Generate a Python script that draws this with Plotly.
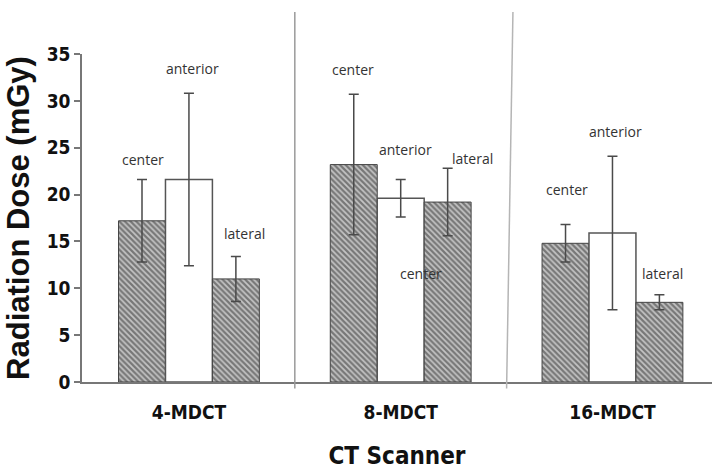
import plotly.graph_objects as go

scanners = ["4-MDCT", "8-MDCT", "16-MDCT"]
positions = ["center", "anterior", "lateral"]
center_dose = [17.2, 23.2, 14.8]
center_err = [4.4, 7.5, 2.0]
anterior_dose = [21.6, 19.6, 15.9]
anterior_err = [9.2, 2.0, 8.2]
lateral_dose = [11.0, 19.2, 8.5]
lateral_err = [2.4, 3.6, 0.8]
y_ticks = [0, 5, 10, 15, 20, 25, 30, 35]

# in-plot labels: (text, group offset x, y)
label_text = ["center", "anterior", "lateral", "center", "anterior", "lateral", "center", "center", "anterior", "lateral"]
label_x = [-0.217, 0.019, 0.264, 0.774, 1.024, 1.340, 1.094, 1.783, 2.014, 2.236]
label_y = [23.7, 33.5, 15.8, 33.3, 24.8, 23.9, 11.6, 20.5, 26.7, 11.6]

xs = list(range(len(scanners)))

hatch = dict(shape="\\", fgcolor="#2a2a2a", bgcolor="#c4c4c4", size=4, solidity=0.55)
err_style = dict(type="data", color="#4a4a4a", thickness=1.5, width=5, visible=True)

NARROW = "DejaVu Sans Condensed, Liberation Sans Narrow, Arial Narrow, sans-serif"

fig = go.Figure()
fig.add_trace(go.Bar(
    x=xs, y=center_dose, name="center",
    marker=dict(color="#c4c4c4", pattern=hatch, line=dict(color="#444444", width=1)),
    error_y=dict(array=center_err, **err_style),
))
fig.add_trace(go.Bar(
    x=xs, y=anterior_dose, name="anterior",
    marker=dict(color="white", line=dict(color="#555555", width=1.5)),
    error_y=dict(array=anterior_err, **err_style),
))
fig.add_trace(go.Bar(
    x=xs, y=lateral_dose, name="lateral",
    marker=dict(color="#c4c4c4", pattern=hatch, line=dict(color="#444444", width=1)),
    error_y=dict(array=lateral_err, **err_style),
))

for t, x, y in zip(label_text, label_x, label_y):
    fig.add_annotation(x=x, y=y, xref="x", yref="y", text=t, showarrow=False,
                       font=dict(family="Open Sans", size=14, color="#333333"))

# group separators
for i in range(len(scanners) - 1):
    b = i + 0.5
    top = b + (0.03 if i == 1 else 0.0)
    fig.add_shape(type="line", xref="x", yref="paper", x0=b, x1=top, y0=-0.02, y1=1.128,
                  line=dict(color="#9a9a9a" if i == 0 else "#b5b5b5", width=1.5), layer="above")

fig.update_layout(
    width=713, height=474,
    margin=dict(l=82, r=1, t=54, b=92),
    paper_bgcolor="white", plot_bgcolor="white",
    barmode="group", bargap=0.335, bargroupgap=0,
    showlegend=False,
    xaxis=dict(
        range=[-0.505, 2.47], tickvals=xs, ticktext=scanners, ticks="",
        ticklabelstandoff=12,
        showline=True, linecolor="#777777", linewidth=1.5, showgrid=False, zeroline=False,
        tickfont=dict(family=NARROW, size=19, color="#111111", weight="bold"),
        title=dict(text="CT Scanner", standoff=26,
                   font=dict(family=NARROW, size=24, color="#111111", weight="bold")),
    ),
    yaxis=dict(
        range=[0, 35], tickvals=y_ticks, ticks="outside", ticklen=6, tickcolor="#777777", tickwidth=1.5,
        showline=True, linecolor="#777777", linewidth=1.5, showgrid=False, zeroline=False,
        tickfont=dict(family=NARROW, size=19, color="#111111", weight="bold"),
        title=dict(text="Radiation Dose (mGy)", standoff=8,
                   font=dict(family="Liberation Sans", size=31, color="#111111", weight="bold")),
    ),
)

fig.write_html("out.html")
